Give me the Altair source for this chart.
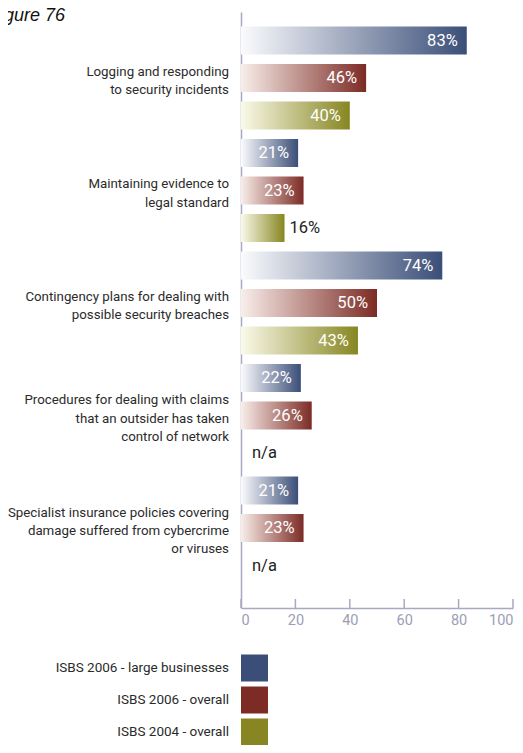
import altair as alt
import pandas as pd

categories = [
    "Logging and responding\nto security incidents",
    "Maintaining evidence to\nlegal standard",
    "Contingency plans for dealing with\npossible security breaches",
    "Procedures for dealing with claims\nthat an outsider has taken\ncontrol of network",
    "Specialist insurance policies covering\ndamage suffered from cybercrime\nor viruses",
]
series = ["ISBS 2006 - large businesses", "ISBS 2006 - overall", "ISBS 2004 - overall"]
large_2006 = [83, 21, 74, 22, 21]
overall_2006 = [46, 23, 50, 26, 23]
overall_2004 = [40, 16, 43, None, None]
ticks = [0, 20, 40, 60, 80, 100]

dark = ["#3a4e78", "#7c2b25", "#878622"]
light = ["#fbfbfd", "#f9eeea", "#fbfaea"]

rows = []
for ci, cat in enumerate(categories):
    for si, (s, vals) in enumerate(zip(series, [large_2006, overall_2006, overall_2004])):
        v = vals[ci]
        rows.append({
            "category": cat, "series": s, "row": ci * 3 + si,
            "value": v,
            "label": ("n/a" if v is None else f"{v}%"),
            "inside": (v is not None and v >= 20),
        })
df = pd.DataFrame(rows)
cat_df = pd.DataFrame({
    "category": categories,
    "row": [i * 3 + 1 for i in range(len(categories))],
    "nlines": [c.count("\n") + 1 for c in categories],
})
tick_df = pd.DataFrame({"tick": ticks})
legend_df = pd.DataFrame({"series": series, "idx": list(range(len(series)))})

W, H = 272, 596
FONT = "Roboto"
LH = 18.3

yscale = alt.Scale(domain=[-0.63, 15.0], reverse=True, nice=False, zero=False)
xscale = alt.Scale(domain=[0, 100], nice=False)

base = alt.Chart(df)

bar_layers = []
for si, s in enumerate(series):
    bar_layers.append(
        base.transform_filter(alt.datum.series == s)
        .transform_filter("isValid(datum.value)")
        .mark_bar(orient="horizontal", size=28, color=alt.Gradient(
            gradient="linear", x1=0, x2=1, y1=0, y2=0,
            stops=[alt.GradientStop(color=light[si], offset=0),
                   alt.GradientStop(color=dark[si], offset=1)]))
        .encode(
            x=alt.X("value:Q", scale=xscale,
                    axis=alt.Axis(values=ticks, title=None, grid=False, ticks=False,
                                  domainColor="#a8a8c2", domainWidth=1.5,
                                  labelColor="#9d9db5", labelFont=FONT, labelFontSize=14.5,
                                  labelPadding=5)),
            y=alt.Y("row:Q", scale=yscale,
                    axis=alt.Axis(title=None, labels=False, ticks=False, grid=False,
                                  domainColor="#a8a8c2", domainWidth=1.5)),
        )
    )

inside_text = base.transform_filter(alt.datum.inside).mark_text(
    align="right", baseline="middle", dx=-9, color="white", font=FONT, fontSize=16.5
).encode(x=alt.X("value:Q", scale=xscale), y=alt.Y("row:Q", scale=yscale), text="label:N")

outside_text = base.transform_filter("!datum.inside && isValid(datum.value)").mark_text(
    align="left", baseline="middle", dx=5, color="#222222", font=FONT, fontSize=16.5
).encode(x=alt.X("value:Q", scale=xscale), y=alt.Y("row:Q", scale=yscale), text="label:N")

na_text = base.transform_filter("!isValid(datum.value)").transform_calculate(
    zero="0"
).mark_text(
    align="left", baseline="middle", dx=11, color="#222222", font=FONT, fontSize=16.5
).encode(x=alt.X("zero:Q", scale=xscale), y=alt.Y("row:Q", scale=yscale), text="label:N")

cat_layers = []
for n in sorted(set(cat_df["nlines"])):
    cat_layers.append(
        alt.Chart(cat_df).transform_filter(alt.datum.nlines == n).mark_text(
            align="right", baseline="middle", lineBreak="\n", lineHeight=LH,
            dy=-(n - 1) * LH / 2 + 3,
            font=FONT, fontSize=13.3, color="#2b2b2b"
        ).encode(x=alt.value(-12), y=alt.Y("row:Q", scale=yscale), text="category:N")
    )

tick_rules = alt.Chart(tick_df).mark_rule(color="#a8a8c2", strokeWidth=1.5).encode(
    x=alt.X("tick:Q", scale=xscale), y=alt.value(H), y2=alt.value(H - 9)
)

title = alt.Chart(pd.DataFrame({"t": ["Figure 76"]})).mark_text(
    align="left", baseline="alphabetic", font="Liberation Sans", fontSize=18,
    fontStyle="italic", color="#111111"
).encode(x=alt.value(-252), y=alt.value(9), text="t:N")

main = alt.layer(*bar_layers, inside_text, outside_text, na_text, *cat_layers,
                 tick_rules, title)

# legend: its own y scale placing entries below the axis, 32px apart
lscale = alt.Scale(domain=[-20.5, -20.5 + H / 32.0], reverse=True, nice=False, zero=False)
leg_sq = alt.Chart(legend_df).mark_square(size=729, opacity=1).encode(
    x=alt.value(13.5),
    y=alt.Y("idx:Q", scale=lscale, axis=None),
    color=alt.Color("series:N", scale=alt.Scale(domain=series, range=dark), legend=None),
)
leg_txt = alt.Chart(legend_df).mark_text(
    align="right", baseline="middle", font=FONT, fontSize=13.5, color="#2b2b2b"
).encode(x=alt.value(-12), y=alt.Y("idx:Q", scale=lscale, axis=None), text="series:N")
legend = alt.layer(leg_sq, leg_txt)

chart = alt.layer(main, legend).resolve_scale(y="independent").properties(
    width=W, height=H,
    autosize=alt.AutoSizeParams(type="none"),
    padding={"left": 233, "top": 4, "right": 2, "bottom": 137},
).configure_view(stroke=None)

chart.save("out.html", embed_options={"renderer": "svg", "actions": False})
